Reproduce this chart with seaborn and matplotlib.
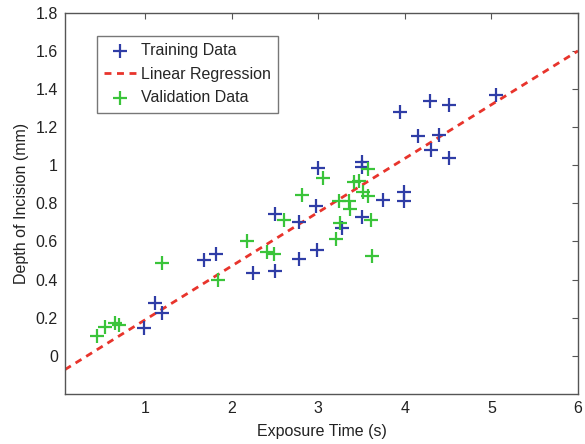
import numpy as np
import matplotlib
matplotlib.use("Agg")
import matplotlib.pyplot as plt
import seaborn as sns

# training data (blue crosses)
train_x = [0.99, 1.12, 1.20, 1.68, 1.82, 2.25, 2.50, 2.50, 2.78, 2.78, 2.97, 2.99, 3.00, 3.28,
           3.50, 3.50, 3.50, 3.75, 3.99, 3.99, 3.95, 4.15, 4.29, 4.30, 4.39, 4.51, 4.51, 5.05]
train_y = [0.148, 0.279, 0.226, 0.50, 0.532, 0.435, 0.447, 0.745, 0.70, 0.51, 0.787, 0.557, 0.983, 0.668,
           1.017, 0.99, 0.727, 0.818, 0.862, 0.812, 1.278, 1.151, 1.339, 1.078, 1.157, 1.317, 1.04, 1.369]

# validation data (green crosses)
val_x = [0.44, 0.54, 0.65, 0.70, 1.20, 1.84, 2.18, 2.41, 2.49, 2.60, 2.81, 3.05, 3.20, 3.24,
         3.25, 3.35, 3.37, 3.41, 3.47, 3.52, 3.57, 3.57, 3.61, 3.62]
val_y = [0.104, 0.153, 0.174, 0.16, 0.485, 0.40, 0.60, 0.542, 0.536, 0.715, 0.845, 0.934, 0.615, 0.81,
         0.698, 0.81, 0.77, 0.913, 0.917, 0.86, 0.98, 0.84, 0.713, 0.523]

# linear regression fit
slope = 0.2824
intercept = -0.094

x_lim = (0.075, 6.0)
y_lim = (-0.2, 1.8)

sns.set_style("white")
plt.rcParams['font.family'] = ['Liberation Sans', 'DejaVu Sans']

fig, ax = plt.subplots(figsize=(5.85, 4.44), dpi=100)
fig.subplots_adjust(left=0.111, right=0.988, top=0.971, bottom=0.113)

blue = '#2f3da6'
green = '#3ac43a'
red = '#e8342c'
fs = 11.5

sns.scatterplot(x=train_x, y=train_y, marker='+', s=110, color=blue, linewidth=1.6,
                label='Training Data', ax=ax, zorder=3)
reg_x = np.array(x_lim)
sns.lineplot(x=reg_x, y=slope * reg_x + intercept, color=red, linewidth=2,
             linestyle=(0, (2.5, 2)), label='Linear Regression', ax=ax, zorder=2)
sns.scatterplot(x=val_x, y=val_y, marker='+', s=110, color=green, linewidth=1.6,
                label='Validation Data', ax=ax, zorder=3)

ax.set_xlim(*x_lim)
ax.set_ylim(*y_lim)
ax.set_xticks([1, 2, 3, 4, 5, 6])
ax.set_yticks(np.round(np.arange(0, 1.81, 0.2), 1))
ax.set_yticklabels(['0', '0.2', '0.4', '0.6', '0.8', '1', '1.2', '1.4', '1.6', '1.8'])

for sp in ax.spines.values():
    sp.set_color('#555555')
    sp.set_linewidth(1.0)
ax.tick_params(direction='in', length=4, width=0.8, color='#555555',
               top=True, right=True, labelsize=fs, labelcolor='#222222', pad=5)

ax.set_xlabel('Exposure Time (s)', fontsize=fs, color='#222222', labelpad=6)
ax.set_ylabel('Depth of Incision (mm)', fontsize=fs, color='#222222', labelpad=5)

leg = ax.legend(loc='upper left', bbox_to_anchor=(0.062, 0.94), borderaxespad=0,
                fancybox=False, frameon=True, fontsize=fs, handlelength=2.0,
                handletextpad=0.3, labelspacing=0.55, borderpad=0.45)
leg.get_frame().set_edgecolor('#555555')
leg.get_frame().set_linewidth(1.0)

plt.savefig('out.png', dpi=100)
